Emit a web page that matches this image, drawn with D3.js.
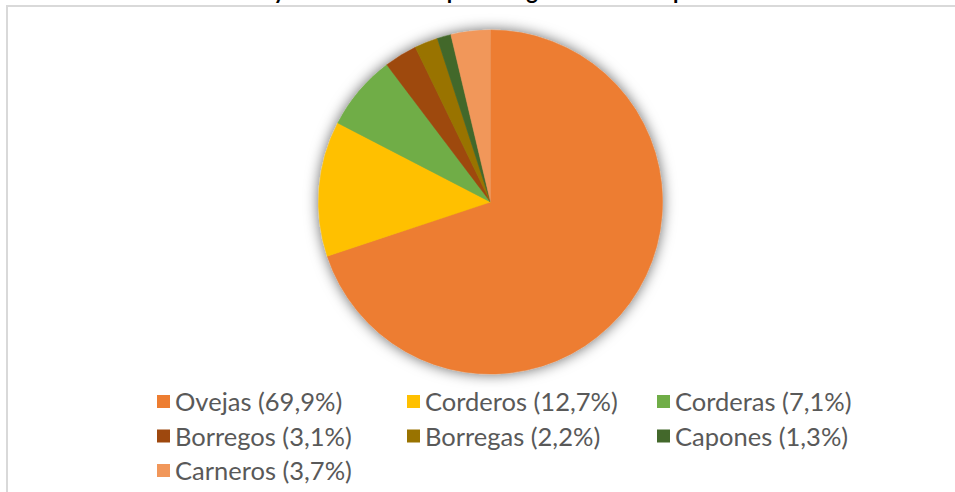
<!DOCTYPE html>
<html>
<head>
<meta charset="utf-8">
<script src="https://cdn.jsdelivr.net/npm/d3@7"></script>
<style>
  html, body { margin: 0; padding: 0; background: #fff; overflow: hidden; }
  svg { display: block; }
</style>
</head>
<body>
<svg id="chart"></svg>
<script>
const categories = ["Ovejas", "Corderos", "Corderas", "Borregos", "Borregas", "Capones", "Carneros"];
const shares = [69.9, 12.7, 7.1, 3.1, 2.2, 1.3, 3.7];
const colors = ["#ED7D31", "#FFC000", "#70AD47", "#9E480E", "#997300", "#43682B", "#F1975A"];
const title = "Proyección del stock por categoría en el campo";

let width = 955;
let height = 492;

let svg = d3.select("#chart").attr("width", width).attr("height", height);

let defs = svg.append("defs");
let shadow = defs.append("filter")
    .attr("id", "pieShadow")
    .attr("x", "-20%").attr("y", "-20%")
    .attr("width", "140%").attr("height", "140%");
shadow.append("feDropShadow")
    .attr("dx", 0).attr("dy", 0)
    .attr("stdDeviation", 7)
    .attr("flood-color", "#000")
    .attr("flood-opacity", 0.6);

// chart area border
svg.append("rect")
    .attr("x", 7).attr("y", 6)
    .attr("width", width + 20).attr("height", height + 20)
    .attr("fill", "none")
    .attr("stroke", "#d9d9d9")
    .attr("stroke-width", 2);

// title (mostly above the visible area, as in the reference)
svg.append("text")
    .attr("x", 469).attr("y", -1.5)
    .attr("text-anchor", "middle")
    .style("font-family", "Lato, 'DejaVu Sans', sans-serif")
    .style("font-weight", "bold")
    .style("font-size", "22px")
    .attr("fill", "#000")
    .text(title);

// pie
let cx = 490.5, cy = 202, radius = 172;

let pie = d3.pie().sort(null).value(d => d.value);
let arc = d3.arc().innerRadius(0).outerRadius(radius);

let data = categories.map((c, i) => ({ name: c, value: shares[i], color: colors[i] }));

let pieGroup = svg.append("g")
    .attr("transform", `translate(${cx},${cy})`)
    .attr("filter", "url(#pieShadow)");

pieGroup.selectAll("path")
    .data(pie(data))
    .enter().append("path")
    .attr("d", arc)
    .attr("fill", d => d.data.color)
    .attr("stroke", d => d.data.color)
    .attr("stroke-width", 0.5);

// legend
let colX = d3.scaleOrdinal().domain([0, 1, 2]).range([157, 407, 657]);
let rowY = d3.scaleLinear().domain([0, 2]).range([402, 471]);

let legend = svg.append("g").attr("class", "legend")
    .selectAll("g")
    .data(data)
    .enter().append("g")
    .attr("transform", (d, i) => `translate(${colX(i % 3)},${rowY(Math.floor(i / 3))})`);

legend.append("rect")
    .attr("x", 0).attr("y", -7)
    .attr("width", 13).attr("height", 13)
    .attr("fill", d => d.color);

legend.append("text")
    .attr("x", 18).attr("y", 9)
    .style("font-family", "Lato, 'DejaVu Sans', sans-serif")
    .style("font-size", "25.5px")
    .attr("fill", "#595959")
    .text(d => `${d.name} (${d3.format(".1f")(d.value).replace(".", ",")}%)`);
</script>
</body>
</html>
